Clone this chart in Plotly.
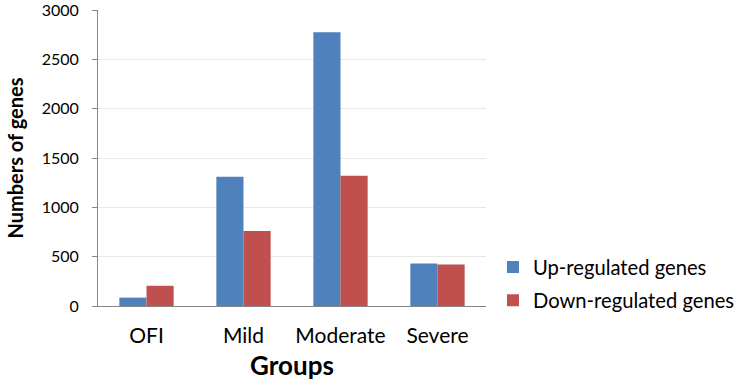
import plotly.graph_objects as go

groups = ["OFI", "Mild", "Moderate", "Severe"]
up_regulated = [85, 1310, 2775, 430]
down_regulated = [205, 760, 1320, 420]
series_names = ["Up-regulated genes", "Down-regulated genes"]
colors = ["#4F81BD", "#C0504D"]

fig = go.Figure()
for name, vals, col in zip(series_names, [up_regulated, down_regulated], colors):
    fig.add_trace(go.Bar(x=groups, y=vals, name=name, marker_color=col,
                         marker_line_width=0, legendgroup=name))

FONT = "Lato"
fig.update_layout(
    width=739, height=388,
    margin=dict(l=98, r=253, t=10, b=82, autoexpand=False),
    paper_bgcolor="white", plot_bgcolor="white",
    barmode="group", bargap=0.44, bargroupgap=0,
    font=dict(family=FONT, size=16, color="#000000"),
    legend=dict(x=1.018, y=0.198, xanchor="left", yanchor="top",
                font=dict(family=FONT, size=20.2), tracegroupgap=4,
                itemwidth=30, bgcolor="rgba(0,0,0,0)"),
    showlegend=True,
)
fig.update_xaxes(
    showline=True, linecolor="#868686", linewidth=1,
    ticks="", tickfont=dict(family=FONT, size=21), ticklabelstandoff=11,
    automargin=False,
    title=dict(text="<b>Groups</b>", font=dict(family=FONT, size=26), standoff=10),
)
fig.update_yaxes(
    range=[0, 3000], tickvals=[0, 500, 1000, 1500, 2000, 2500, 3000],
    showline=True, linecolor="#868686", linewidth=1,
    ticks="outside", ticklen=5, tickcolor="#868686",
    showgrid=True, gridcolor="#E8E8E8", gridwidth=1,
    tickfont=dict(family=FONT, size=16), ticklabelstandoff=10,
    ticklabeloverflow="allow", automargin=False,
    title=dict(text="<b>Numbers of genes</b>", font=dict(family=FONT, size=20), standoff=12),
    zeroline=False,
)

fig.write_html("out.html", post_script="document.body.style.margin='0px';",
               config={"displayModeBar": False})
